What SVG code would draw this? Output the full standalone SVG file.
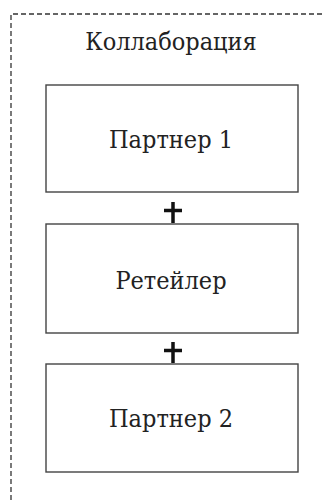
<svg xmlns="http://www.w3.org/2000/svg" width="323" height="500" viewBox="0 0 323 500">
  <style>
    .frame { fill: none; stroke: #333; stroke-width: 1.3; stroke-dasharray: 5 3; }
    .box { fill: #fff; stroke: #444; stroke-width: 1.4; }
    .label { font-family: "DejaVu Serif", serif; font-stretch: condensed; font-size: 25px; fill: #222; text-anchor: middle; }
    .plus { stroke: #111; stroke-width: 3.5; }
  </style>
  <rect width="323" height="500" fill="#fff"/>
  <g id="collaboration">
    <path class="frame" d="M11 500 V14 H323"/>
    <text class="label" x="171" y="50">Коллаборация</text>
  </g>
  <g id="partner1">
    <rect class="box" x="46" y="85" width="252" height="107"/>
    <text class="label" x="171" y="148">Партнер 1</text>
  </g>
  <g id="retailer">
    <rect class="box" x="46" y="224" width="252" height="109"/>
    <text class="label" x="171" y="289">Ретейлер</text>
  </g>
  <g id="partner2">
    <rect class="box" x="46" y="364" width="252" height="108"/>
    <text class="label" x="171" y="427">Партнер 2</text>
  </g>
  <g id="connectors">
    <path class="plus" d="M164 210.5 H182 M173 202 V223"/>
    <path class="plus" d="M164 350.5 H182 M173 342 V363"/>
  </g>
</svg>
